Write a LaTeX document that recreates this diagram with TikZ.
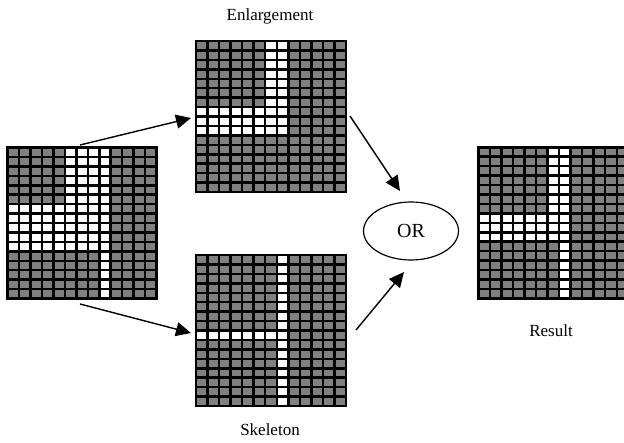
\documentclass[tikz,border=0pt]{standalone}
\usepackage{fontspec}
\setmainfont{Liberation Serif}
\usetikzlibrary{arrows.meta,shapes.geometric}
\definecolor{cellgray}{HTML}{808080}
\newcommand\cellgrid[3]{%
\begin{scope}[shift={(#1)}, x=#2pt, y=-9.44pt]
  \fill[cellgray] (0,0) rectangle (13,16);
  \foreach \a/\b/\c/\d in {#3} \fill[white] (\a,\b) rectangle (\c,\d);
  \foreach \i in {1,...,12} \draw[gridline] (\i,0) -- (\i,16);
  \foreach \j in {1,...,15} \draw[gridline] (0,\j) -- (13,\j);
  \draw[gridline, line width=2.8pt] (0,0) rectangle (13,16);
\end{scope}}
\begin{document}
\begin{tikzpicture}[x=1pt, y=-1pt,
  gridline/.style={line width=2.5pt, black},
  conn/.style={line width=1.4pt, -{Triangle[length=15pt,width=14pt]}},
  lbl/.style={font=\fontsize{17}{20}\selectfont, inner sep=0pt},
  gridnode/.style={inner sep=0pt, minimum width=150pt, minimum height=151pt}]
\useasboundingbox (0,0) rectangle (624,442);
% grids
\node[gridnode] (input) at (82,223) {};
\node[gridnode] (enl) at (271,116.5) {};
\node[gridnode] (skel) at (271,330.5) {};
\node[gridnode] (res) at (553,223) {};
\cellgrid{7.5,147.5}{11.47}{5/0/9/6, 0/6/9/11, 8/11/9/16}
\cellgrid{196,41}{11.54}{6/0/8/7, 0/7/8/10}
\cellgrid{196,255}{11.54}{7/0/8/16, 0/8/7/9}
\cellgrid{478.3,147.3}{11.54}{6/0/8/7, 0/7/8/10, 7/10/8/16}
% labels
\node[lbl] (lenl) at (270,16) {Enlargement};
\node[lbl] (lskel) at (270,430) {Skeleton};
\node[lbl] (lres) at (551,331) {Result};
% OR
\node[draw, ellipse, line width=1.2pt, minimum width=95pt, minimum height=58pt, inner sep=0pt, font=\fontsize{20}{24}\selectfont] (or) at (411,231) {OR};
% arrow endpoints
\coordinate (a1s) at (80,145);
\coordinate (a1e) at (191,118);
\coordinate (a2s) at (80,304);
\coordinate (a2e) at (191,333);
\coordinate (a3s) at (350,116);
\coordinate (a3e) at (400,191);
\coordinate (a4s) at (356,330);
\coordinate (a4e) at (404,272);
\draw[conn] (a1s) -- (a1e);
\draw[conn] (a2s) -- (a2e);
\draw[conn] (a3s) -- (a3e);
\draw[conn] (a4s) -- (a4e);
\end{tikzpicture}
\end{document}
